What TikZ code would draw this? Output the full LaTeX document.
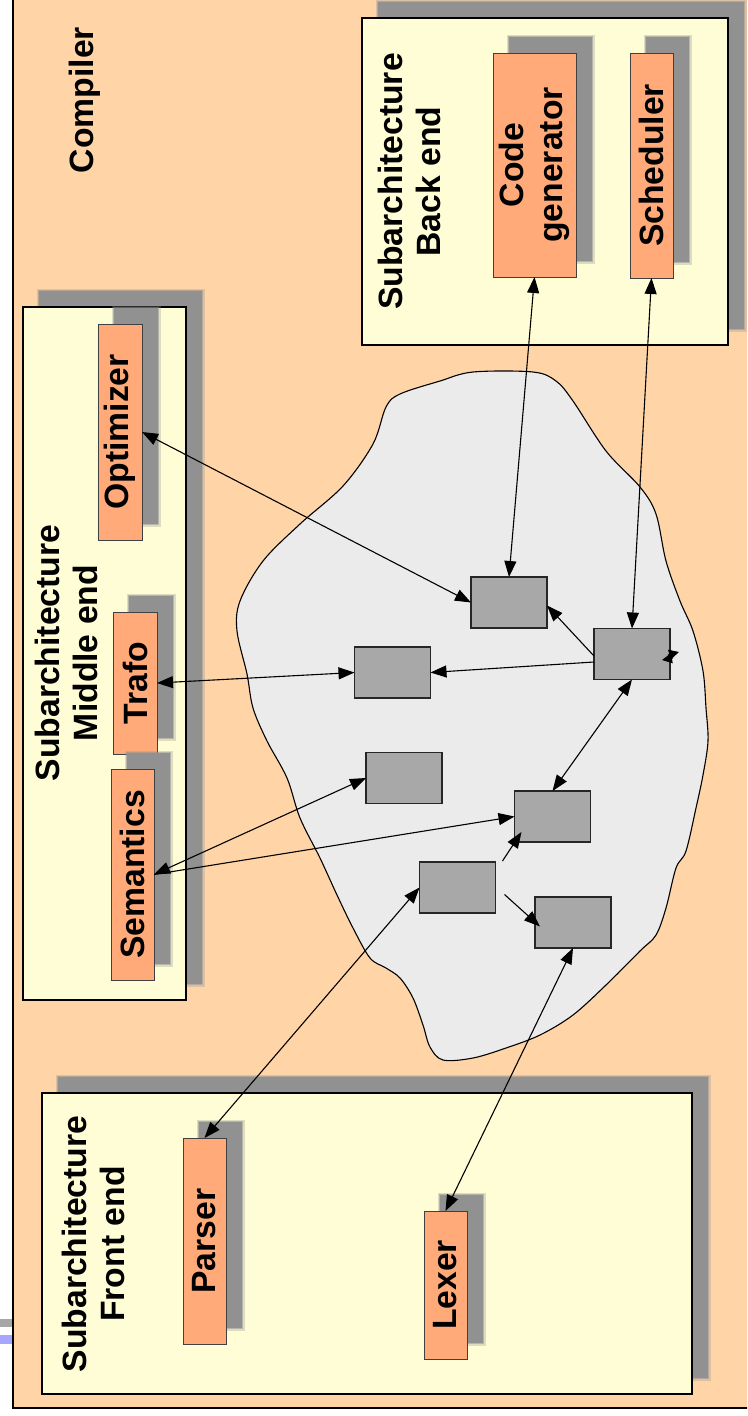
\documentclass[tikz,border=0pt]{standalone}
\usepackage{fontspec}
\setmainfont{Liberation Sans}
\usetikzlibrary{arrows.meta,shadows}
\definecolor{peach}{HTML}{FFD5A8}
\definecolor{cream}{HTML}{FFFDD5}
\definecolor{compfill}{HTML}{FFAA78}
\definecolor{boxgrey}{HTML}{A8A8A8}
\definecolor{blobgrey}{HTML}{EBEBEB}
\definecolor{shadowgrey}{HTML}{919191}
\definecolor{bargrey}{HTML}{A6A6A6}
\definecolor{barblue}{HTML}{A6A6FF}
\newcommand\twolines[2]{\vbox{\halign{\hfil##\hfil\cr #1\cr #2\cr}}}
\newcommand\rot[1]{\rotatebox{90}{#1}}
\begin{document}
\begin{tikzpicture}[x=1pt,y=-1pt,
  every node/.style={font=\bfseries\fontsize{33.7pt}{38.5pt}\selectfont, inner sep=0pt, outer sep=0pt},
  shadowed/.style={
    general shadow={shadow xshift=16pt, shadow yshift=16pt, draw=shadowgrey, line width=5pt, draw opacity=0.3, fill=shadowgrey, fill opacity=1},
    general shadow={shadow xshift=16pt, shadow yshift=16pt, draw=shadowgrey, line width=2.5pt, draw opacity=0.5, fill=shadowgrey, fill opacity=1}},
  container/.style={shadowed, draw=black, line width=1.3pt, fill=cream, rectangle},
  comp/.style={shadowed, draw=black!75, line width=0.8pt, fill=compfill, rectangle},
  gbox/.style={draw=black!85, line width=1.2pt, fill=boxgrey, rectangle, minimum width=76pt, minimum height=51pt},
  conn/.style={line width=1.1pt, -{Triangle[length=16pt,width=12pt]}},
  dconn/.style={line width=1.1pt, {Triangle[length=16pt,width=12pt]}-{Triangle[length=16pt,width=12pt]}},
  mini/.style={line width=1pt, -{Triangle[length=10pt,width=10pt]}},
  label/.style={}]
\useasboundingbox (0,0) rectangle (747,1416);
\clip (0,0) rectangle (747,1416);
\fill[white] (0,0) rectangle (747,1416);
% outer compiler area
\draw[line width=1.2pt, fill=peach] (13,-10) rectangle (760,1408);
\fill[bargrey] (0,1319) rectangle (12,1327);
\fill[barblue] (0,1335) rectangle (12,1344);
\node[label] (complabel) at (85,100) {\rot{Compiler}};

% containers
\node[container, minimum width=366pt, minimum height=327pt] (back) at (545,181.5) {};
\node[container, minimum width=163pt, minimum height=693pt] (middle) at (104.5,653.5) {};
\node[container, minimum width=650pt, minimum height=301pt] (front) at (367,1243.5) {};
\node[label] (backlabel) at (409.5,181.5) {\rot{\twolines{Subarchitecture}{Back end}}};
\node[label] (middlelabel) at (66.5,653) {\rot{\twolines{Subarchitecture}{Middle end}}};
\node[label] (frontlabel) at (93.5,1244) {\rot{\twolines{Subarchitecture}{Front end}}};

% components
\node[comp, minimum width=83pt, minimum height=224pt] (cg) at (534.5,165) {\rot{\twolines{Code}{generator}}};
\node[comp, minimum width=43pt, minimum height=225pt] (sch) at (651.5,165.5) {\rot{Scheduler}};
\node[comp, minimum width=44pt, minimum height=216pt] (opt) at (120,432) {\rot{Optimizer}};
\node[comp, minimum width=44pt, minimum height=142pt] (trafo) at (135,683) {\rot{Trafo}};
\node[comp, minimum width=43pt, minimum height=211pt] (sem) at (132.5,874.5) {\rot{Semantics}};
\node[comp, minimum width=43pt, minimum height=206pt] (parser) at (204.5,1241) {\rot{Parser}};
\node[comp, minimum width=43pt, minimum height=148pt] (lexer) at (445.5,1285) {\rot{Lexer}};

% blob
\draw[line width=1.1pt, fill=blobgrey] plot[smooth cycle, tension=0.55] coordinates {
 (473,372) (533,372) (556,381) (573,401) (606,451) (640,487) (656,514) (666,561)
 (680,601) (693,631) (703,671) (706,708) (708,741) (703,775) (696,808) (686,851)
 (676,868) (666,908) (656,935) (640,951) (606,985) (573,1015) (540,1035) (506,1048)
 (473,1058) (443,1060) (430,1047) (423,1025) (413,998) (400,978) (386,968) (370,958)
 (353,928) (337,895) (320,858) (300,818) (287,778) (267,741) (253,708) (247,674)
 (237,631) (240,601) (263,561) (300,524) (343,486) (373,444) (386,407) (400,394) (440,381)};

% grey boxes
\node[gbox] (ga) at (509,602.5) {};
\node[gbox] (gb) at (632,654) {};
\node[gbox] (gc) at (392.5,672.5) {};
\node[gbox] (ge) at (404,778) {};
\node[gbox] (gd) at (552.5,816.5) {};
\node[gbox] (gf) at (457.5,887.5) {};
\node[gbox] (gg) at (573,922.5) {};

% connectors
\draw[dconn] (cg.south) -- (ga.north);
\draw[dconn] (sch.south) -- (gb.north);
\draw[dconn] (opt.east) -- (ga.west);
\draw[dconn] (trafo.east) -- (gc.west);
\draw[conn] ([yshift=-2pt]gb.west) -- ([yshift=-3pt]ga.east);
\draw[conn] ([yshift=-8pt]gb.west) -- (gc.east);
\draw[dconn] (gb.south) -- (gd.north);
\draw[dconn] (ge.west) -- (sem.east);
\draw[conn] (sem.east) -- (gd.west);
\draw[conn] ([shift={(7pt,1pt)}]gf.north east) -- ([shift={(7pt,10pt)}]gd.south west);
\draw[conn] ([shift={(9pt,-7pt)}]gf.east) -- ([shift={(5pt,-4pt)}]gg.west);
\draw[dconn] (parser.north) -- (gf.west);
\draw[dconn] (lexer.north) -- (gg.south);
\draw[mini] ([shift={(3pt,-4pt)}]gb.east) -- ([shift={(-8pt,-6pt)}]gb.east);
\draw[mini] ([shift={(-2pt,-1pt)}]gb.east) -- ([shift={(9pt,2pt)}]gb.east);
\end{tikzpicture}
\end{document}
